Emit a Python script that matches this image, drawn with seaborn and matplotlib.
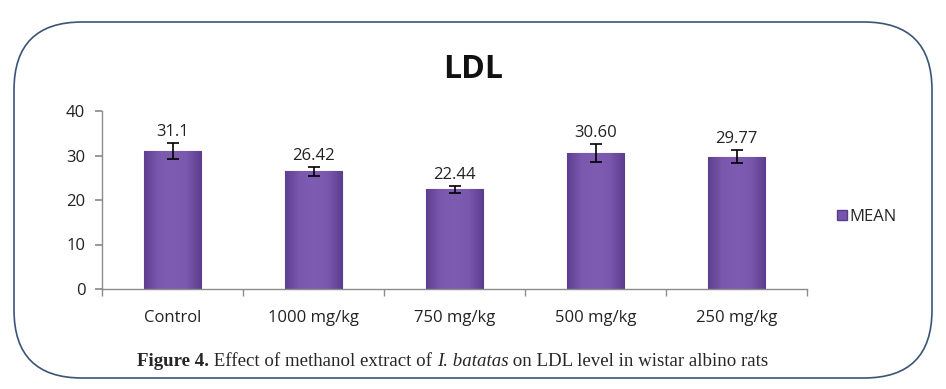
import matplotlib
matplotlib.use("Agg")
import matplotlib.pyplot as plt
import seaborn as sns
import pandas as pd
import numpy as np
from matplotlib.patches import FancyBboxPatch, Patch
from matplotlib.ticker import FixedLocator
from matplotlib.colors import LinearSegmentedColormap

categories = ["Control", "1000 mg/kg", "750 mg/kg", "500 mg/kg", "250 mg/kg"]
mean_values = [31.1, 26.42, 22.44, 30.60, 29.77]
value_labels = ["31.1", "26.42", "22.44", "30.60", "29.77"]
errors = [1.8, 1.0, 0.8, 2.0, 1.5]

df = pd.DataFrame({"group": categories, "MEAN": mean_values})

sns.set_theme(style="white")
plt.rcParams["font.family"] = ["Open Sans", "DejaVu Sans"]

fig = plt.figure(figsize=(9.46, 3.89), dpi=100)
ax = fig.add_axes([102/946, 1-289/389, 705/946, 178/389])

bar_color = "#7655AA"
sns.barplot(data=df, x="group", y="MEAN", color=bar_color, width=0.4, ax=ax,
            edgecolor="#5A3D8A", linewidth=0.8, errorbar=None, saturation=1)

# subtle horizontal gradient inside each bar
cmap = LinearSegmentedColormap.from_list(
    "barg", ["#5E3F8F", "#7A58AE", "#7E5CB2", "#7A58AE", "#5E3F8F"])
grad = np.linspace(0, 1, 200).reshape(1, -1)
for p in ax.patches:
    x0, y0 = p.get_x(), p.get_y()
    w, h = p.get_width(), p.get_height()
    im = ax.imshow(grad, cmap=cmap, aspect="auto", extent=[x0, x0 + w, y0, y0 + h],
                   zorder=p.get_zorder() + 0.1, interpolation="bicubic")
    im.set_clip_path(p)
ax.set_xlim(-0.5, 4.5)
ax.set_ylim(0, 40)

ax.errorbar(x=np.arange(len(categories)), y=mean_values, yerr=errors, fmt="none",
            ecolor="black", elinewidth=1.2, capsize=4, capthick=1.2, zorder=5)

for i, (v, e, lab) in enumerate(zip(mean_values, errors, value_labels)):
    ax.annotate(lab, (i, v + e), xytext=(0, 2), textcoords="offset points",
                ha="center", va="bottom", fontsize=12, color="#222222")

ax.set_yticks([0, 10, 20, 30, 40])
ax.set_xlabel("")
ax.set_ylabel("")
for s in ["top", "right"]:
    ax.spines[s].set_visible(False)
for s in ["left", "bottom"]:
    ax.spines[s].set_color("#8C8C8C")
    ax.spines[s].set_linewidth(1.0)
ax.xaxis.set_minor_locator(FixedLocator(np.arange(-0.5, 5, 1.0)))
ax.tick_params(axis="x", which="major", length=0, labelsize=12, pad=15, colors="#222222")
ax.tick_params(axis="x", which="minor", length=5, color="#8C8C8C", bottom=True)
ax.tick_params(axis="y", which="major", length=5, color="#8C8C8C", left=True,
               labelsize=12, labelcolor="#222222", pad=7)

fig.text(473/946, 1-70/389, "LDL", ha="center", va="center", fontsize=23,
         fontweight="bold", color="#111111")

leg = ax.legend(handles=[Patch(facecolor=bar_color, edgecolor="#5A3D8A")], labels=["MEAN"],
                loc="center left", bbox_to_anchor=(829/946, 1-217/389),
                bbox_transform=fig.transFigure, frameon=False, fontsize=12,
                handlelength=0.6, handleheight=0.6, handletextpad=0.1, borderpad=0)

box = FancyBboxPatch((0.14, 0.11), 9.18, 3.56,
                     boxstyle="round,pad=0,rounding_size=0.68",
                     transform=fig.dpi_scale_trans, fill=False,
                     edgecolor="#3A5478", linewidth=1.2)
fig.add_artist(box)

cap_y = 1 - 362/389
cap_size = 13.6
first = fig.text(137/946, cap_y, "Figure 4.", ha="left", va="center",
                 fontsize=cap_size, fontweight="bold", family="Liberation Serif")
fig.canvas.draw()
renderer = fig.canvas.get_renderer()
cap_parts = [(" Effect of methanol extract of ", "normal"), ("I. batatas", "italic"),
             (" on LDL level in wistar albino rats", "normal")]
x = first.get_window_extent(renderer).x1
for txt, style in cap_parts:
    tt = fig.text(x / fig.bbox.width, cap_y, txt, ha="left", va="center",
                  fontsize=cap_size, family="Liberation Serif", style=style)
    x = tt.get_window_extent(renderer).x1

fig.savefig("out.png", dpi=100)
